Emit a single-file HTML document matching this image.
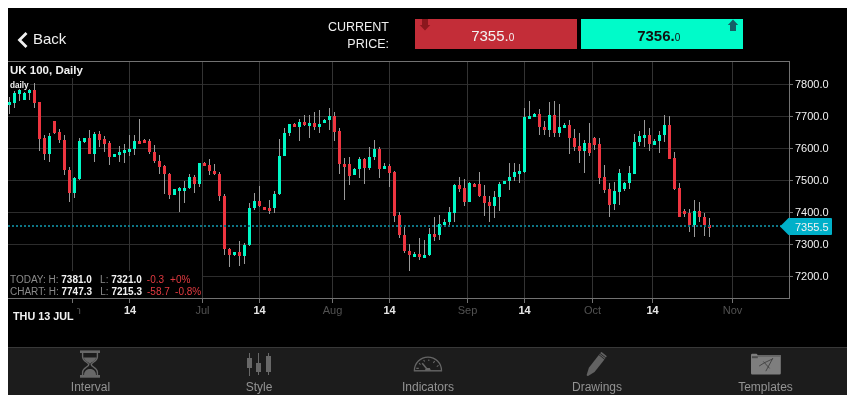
<!DOCTYPE html>
<html lang="en">
<head>
<meta charset="utf-8">
<title>UK 100 Chart</title>
<style>
html,body{margin:0;padding:0;background:#fff;}
body{width:855px;height:403px;position:relative;overflow:hidden;font-family:"Liberation Sans",sans-serif;}
#app{position:absolute;left:8px;top:8px;width:839px;height:387px;background:#000;}
.chart{position:absolute;left:0;top:0;}
.chart text{font-family:"Liberation Sans",sans-serif;}
.ax{font-size:11px;fill:#f2f2f2;}
.ttl{font-size:11.5px;font-weight:bold;fill:#f2f2f2;}
.sub{font-size:8.2px;font-weight:bold;fill:#f2f2f2;}
.st{font-size:10px;}
.st .g{fill:#8a8a8a;}
.st .w{fill:#f2f2f2;font-weight:bold;}
.st .r{fill:#e23a40;}
.xb{font-size:11px;font-weight:bold;fill:#e6e6e6;}
.xm{font-size:11px;fill:#525252;}
.dt{font-size:10.8px;font-weight:bold;fill:#f2f2f2;}
.back{position:absolute;left:33px;top:30px;font-size:15px;line-height:17px;color:#f0f0f0;}
.chev{position:absolute;left:16px;top:31px;}
.cp{position:absolute;left:300px;width:389px;top:17px;}
.cpt{position:absolute;left:250px;top:18.6px;width:139px;text-align:right;font-size:12.5px;line-height:17.3px;color:#f0f0f0;}
.sell{position:absolute;left:415px;top:19px;width:162px;height:30px;background:#c32d38;}
.buy{position:absolute;left:581px;top:19px;width:162px;height:30px;background:#00fbc9;}
.price{position:absolute;left:0;right:6.6px;top:7.7px;text-align:center;font-size:15px;line-height:17px;color:#f3f3f3;}
.price small{font-size:10px;}
.buy .price{color:#111;font-weight:bold;}
.buy .price small{font-weight:normal;}
.tb{position:absolute;left:8px;top:347px;width:839px;height:47px;background:#1c1c1c;border-top:1px solid #383838;box-sizing:content-box;}
.tbi{position:absolute;top:32px;width:120px;margin-left:-60px;text-align:center;font-size:12px;line-height:14px;color:#939393;}
.icons{position:absolute;left:0;top:0;}
</style>
</head>
<body>
<div id="app"></div>
<svg class="chart" width="855" height="403" viewBox="0 0 855 403" shape-rendering="crispEdges">
<rect x="8" y="84" width="782" height="1" fill="#2c2c2c"/>
<rect x="8" y="116" width="782" height="1" fill="#2c2c2c"/>
<rect x="8" y="148" width="782" height="1" fill="#2c2c2c"/>
<rect x="8" y="180" width="782" height="1" fill="#2c2c2c"/>
<rect x="8" y="212" width="782" height="1" fill="#2c2c2c"/>
<rect x="8" y="244" width="782" height="1" fill="#2c2c2c"/>
<rect x="8" y="276" width="782" height="1" fill="#2c2c2c"/>
<rect x="72" y="62" width="1" height="236" fill="#333333"/>
<rect x="129" y="62" width="1" height="236" fill="#333333"/>
<rect x="202" y="62" width="1" height="236" fill="#333333"/>
<rect x="259" y="62" width="1" height="236" fill="#333333"/>
<rect x="332" y="62" width="1" height="236" fill="#333333"/>
<rect x="389" y="62" width="1" height="236" fill="#333333"/>
<rect x="467" y="62" width="1" height="236" fill="#333333"/>
<rect x="524" y="62" width="1" height="236" fill="#333333"/>
<rect x="592" y="62" width="1" height="236" fill="#333333"/>
<rect x="652" y="62" width="1" height="236" fill="#333333"/>
<rect x="732" y="62" width="1" height="236" fill="#333333"/>
<rect x="8" y="61" width="782" height="1" fill="#727272"/>
<rect x="8" y="298" width="782" height="1" fill="#727272"/>
<rect x="789" y="61" width="1" height="238" fill="#727272"/>
<rect x="790" y="84" width="3" height="1" fill="#727272"/>
<rect x="790" y="116" width="3" height="1" fill="#727272"/>
<rect x="790" y="148" width="3" height="1" fill="#727272"/>
<rect x="790" y="180" width="3" height="1" fill="#727272"/>
<rect x="790" y="212" width="3" height="1" fill="#727272"/>
<rect x="790" y="244" width="3" height="1" fill="#727272"/>
<rect x="790" y="276" width="3" height="1" fill="#727272"/>
<rect x="72" y="299" width="1" height="4" fill="#727272"/>
<rect x="129" y="299" width="1" height="4" fill="#727272"/>
<rect x="202" y="299" width="1" height="4" fill="#727272"/>
<rect x="259" y="299" width="1" height="4" fill="#727272"/>
<rect x="332" y="299" width="1" height="4" fill="#727272"/>
<rect x="389" y="299" width="1" height="4" fill="#727272"/>
<rect x="467" y="299" width="1" height="4" fill="#727272"/>
<rect x="524" y="299" width="1" height="4" fill="#727272"/>
<rect x="592" y="299" width="1" height="4" fill="#727272"/>
<rect x="652" y="299" width="1" height="4" fill="#727272"/>
<rect x="732" y="299" width="1" height="4" fill="#727272"/>
<rect x="9" y="97" width="1" height="17" fill="#9a9a9a"/>
<rect x="8" y="102" width="3" height="3" fill="#00f8c6"/>
<rect x="14" y="91" width="1" height="17" fill="#9a9a9a"/>
<rect x="13" y="93" width="3" height="10" fill="#00f8c6"/>
<rect x="19" y="89" width="1" height="12" fill="#9a9a9a"/>
<rect x="18" y="90" width="3" height="4" fill="#00f8c6"/>
<rect x="24" y="92" width="1" height="8" fill="#9a9a9a"/>
<rect x="23" y="93" width="3" height="7" fill="#00f8c6"/>
<rect x="29" y="88" width="1" height="12" fill="#9a9a9a"/>
<rect x="28" y="90" width="3" height="3" fill="#00f8c6"/>
<rect x="34" y="83" width="1" height="25" fill="#9a9a9a"/>
<rect x="33" y="90" width="3" height="13" fill="#ee3540"/>
<rect x="39" y="102" width="1" height="49" fill="#9a9a9a"/>
<rect x="38" y="102" width="3" height="37" fill="#ee3540"/>
<rect x="44" y="135" width="1" height="25" fill="#9a9a9a"/>
<rect x="43" y="138" width="3" height="16" fill="#ee3540"/>
<rect x="49" y="133" width="1" height="29" fill="#9a9a9a"/>
<rect x="48" y="136" width="3" height="18" fill="#00f8c6"/>
<rect x="54" y="121" width="1" height="13" fill="#9a9a9a"/>
<rect x="53" y="121" width="3" height="12" fill="#ee3540"/>
<rect x="59" y="129" width="1" height="14" fill="#9a9a9a"/>
<rect x="58" y="132" width="3" height="8" fill="#ee3540"/>
<rect x="64" y="135" width="1" height="40" fill="#9a9a9a"/>
<rect x="63" y="140" width="3" height="30" fill="#ee3540"/>
<rect x="69" y="167" width="1" height="35" fill="#9a9a9a"/>
<rect x="68" y="170" width="3" height="23" fill="#ee3540"/>
<rect x="74" y="177" width="1" height="21" fill="#9a9a9a"/>
<rect x="73" y="178" width="3" height="15" fill="#00f8c6"/>
<rect x="79" y="138" width="1" height="42" fill="#9a9a9a"/>
<rect x="78" y="141" width="3" height="38" fill="#00f8c6"/>
<rect x="84" y="138" width="1" height="5" fill="#9a9a9a"/>
<rect x="83" y="138" width="3" height="4" fill="#00f8c6"/>
<rect x="89" y="130" width="1" height="24" fill="#9a9a9a"/>
<rect x="88" y="138" width="3" height="16" fill="#ee3540"/>
<rect x="94" y="132" width="1" height="30" fill="#9a9a9a"/>
<rect x="93" y="134" width="3" height="20" fill="#00f8c6"/>
<rect x="99" y="131" width="1" height="16" fill="#9a9a9a"/>
<rect x="98" y="134" width="3" height="6" fill="#ee3540"/>
<rect x="104" y="136" width="1" height="16" fill="#9a9a9a"/>
<rect x="103" y="139" width="3" height="5" fill="#ee3540"/>
<rect x="109" y="141" width="1" height="24" fill="#9a9a9a"/>
<rect x="108" y="143" width="3" height="14" fill="#ee3540"/>
<rect x="114" y="154" width="1" height="3" fill="#9a9a9a"/>
<rect x="113" y="154" width="3" height="3" fill="#00f8c6"/>
<rect x="119" y="146" width="1" height="16" fill="#9a9a9a"/>
<rect x="118" y="152" width="3" height="3" fill="#00f8c6"/>
<rect x="124" y="144" width="1" height="19" fill="#9a9a9a"/>
<rect x="123" y="150" width="3" height="3" fill="#00f8c6"/>
<rect x="129" y="135" width="1" height="21" fill="#9a9a9a"/>
<rect x="128" y="149" width="3" height="3" fill="#00f8c6"/>
<rect x="134" y="135" width="1" height="20" fill="#9a9a9a"/>
<rect x="133" y="141" width="3" height="8" fill="#00f8c6"/>
<rect x="139" y="119" width="1" height="25" fill="#9a9a9a"/>
<rect x="138" y="141" width="3" height="3" fill="#ee3540"/>
<rect x="144" y="139" width="1" height="4" fill="#9a9a9a"/>
<rect x="143" y="140" width="3" height="3" fill="#ee3540"/>
<rect x="149" y="139" width="1" height="15" fill="#9a9a9a"/>
<rect x="148" y="141" width="3" height="11" fill="#ee3540"/>
<rect x="154" y="145" width="1" height="18" fill="#9a9a9a"/>
<rect x="153" y="152" width="3" height="9" fill="#ee3540"/>
<rect x="159" y="155" width="1" height="19" fill="#9a9a9a"/>
<rect x="158" y="161" width="3" height="6" fill="#ee3540"/>
<rect x="164" y="165" width="1" height="29" fill="#9a9a9a"/>
<rect x="163" y="166" width="3" height="8" fill="#ee3540"/>
<rect x="169" y="173" width="1" height="26" fill="#9a9a9a"/>
<rect x="168" y="174" width="3" height="21" fill="#ee3540"/>
<rect x="174" y="189" width="1" height="6" fill="#9a9a9a"/>
<rect x="173" y="189" width="3" height="6" fill="#00f8c6"/>
<rect x="179" y="187" width="1" height="25" fill="#9a9a9a"/>
<rect x="178" y="188" width="3" height="3" fill="#00f8c6"/>
<rect x="184" y="181" width="1" height="22" fill="#9a9a9a"/>
<rect x="183" y="188" width="3" height="3" fill="#00f8c6"/>
<rect x="189" y="174" width="1" height="15" fill="#9a9a9a"/>
<rect x="188" y="177" width="3" height="11" fill="#00f8c6"/>
<rect x="194" y="175" width="1" height="18" fill="#9a9a9a"/>
<rect x="193" y="177" width="3" height="7" fill="#ee3540"/>
<rect x="199" y="163" width="1" height="24" fill="#9a9a9a"/>
<rect x="198" y="163" width="3" height="21" fill="#00f8c6"/>
<rect x="204" y="162" width="1" height="4" fill="#9a9a9a"/>
<rect x="203" y="163" width="3" height="3" fill="#ee3540"/>
<rect x="209" y="159" width="1" height="16" fill="#9a9a9a"/>
<rect x="208" y="165" width="3" height="6" fill="#ee3540"/>
<rect x="214" y="164" width="1" height="11" fill="#9a9a9a"/>
<rect x="213" y="171" width="3" height="3" fill="#ee3540"/>
<rect x="219" y="172" width="1" height="29" fill="#9a9a9a"/>
<rect x="218" y="174" width="3" height="22" fill="#ee3540"/>
<rect x="224" y="194" width="1" height="61" fill="#9a9a9a"/>
<rect x="223" y="196" width="3" height="53" fill="#ee3540"/>
<rect x="229" y="248" width="1" height="19" fill="#9a9a9a"/>
<rect x="228" y="249" width="3" height="6" fill="#ee3540"/>
<rect x="234" y="252" width="1" height="4" fill="#9a9a9a"/>
<rect x="233" y="252" width="3" height="3" fill="#00f8c6"/>
<rect x="239" y="241" width="1" height="25" fill="#9a9a9a"/>
<rect x="238" y="252" width="3" height="4" fill="#ee3540"/>
<rect x="244" y="243" width="1" height="21" fill="#9a9a9a"/>
<rect x="243" y="245" width="3" height="11" fill="#00f8c6"/>
<rect x="249" y="203" width="1" height="43" fill="#9a9a9a"/>
<rect x="248" y="208" width="3" height="37" fill="#00f8c6"/>
<rect x="254" y="193" width="1" height="17" fill="#9a9a9a"/>
<rect x="253" y="201" width="3" height="7" fill="#00f8c6"/>
<rect x="259" y="186" width="1" height="21" fill="#9a9a9a"/>
<rect x="258" y="201" width="3" height="5" fill="#ee3540"/>
<rect x="264" y="207" width="1" height="3" fill="#9a9a9a"/>
<rect x="263" y="207" width="3" height="3" fill="#ee3540"/>
<rect x="269" y="200" width="1" height="14" fill="#9a9a9a"/>
<rect x="268" y="208" width="3" height="3" fill="#ee3540"/>
<rect x="274" y="191" width="1" height="22" fill="#9a9a9a"/>
<rect x="273" y="194" width="3" height="14" fill="#00f8c6"/>
<rect x="279" y="139" width="1" height="56" fill="#9a9a9a"/>
<rect x="278" y="156" width="3" height="38" fill="#00f8c6"/>
<rect x="284" y="128" width="1" height="28" fill="#9a9a9a"/>
<rect x="283" y="133" width="3" height="23" fill="#00f8c6"/>
<rect x="289" y="124" width="1" height="12" fill="#9a9a9a"/>
<rect x="288" y="124" width="3" height="9" fill="#00f8c6"/>
<rect x="294" y="123" width="1" height="4" fill="#9a9a9a"/>
<rect x="293" y="124" width="3" height="3" fill="#ee3540"/>
<rect x="299" y="119" width="1" height="22" fill="#9a9a9a"/>
<rect x="298" y="122" width="3" height="5" fill="#00f8c6"/>
<rect x="304" y="115" width="1" height="11" fill="#9a9a9a"/>
<rect x="303" y="122" width="3" height="3" fill="#ee3540"/>
<rect x="309" y="115" width="1" height="23" fill="#9a9a9a"/>
<rect x="308" y="123" width="3" height="3" fill="#00f8c6"/>
<rect x="314" y="112" width="1" height="18" fill="#9a9a9a"/>
<rect x="313" y="123" width="3" height="4" fill="#ee3540"/>
<rect x="319" y="110" width="1" height="23" fill="#9a9a9a"/>
<rect x="318" y="124" width="3" height="3" fill="#00f8c6"/>
<rect x="324" y="119" width="1" height="4" fill="#9a9a9a"/>
<rect x="323" y="120" width="3" height="3" fill="#00f8c6"/>
<rect x="329" y="108" width="1" height="22" fill="#9a9a9a"/>
<rect x="328" y="116" width="3" height="4" fill="#00f8c6"/>
<rect x="334" y="112" width="1" height="29" fill="#9a9a9a"/>
<rect x="333" y="116" width="3" height="16" fill="#ee3540"/>
<rect x="339" y="128" width="1" height="46" fill="#9a9a9a"/>
<rect x="338" y="131" width="3" height="33" fill="#ee3540"/>
<rect x="344" y="158" width="1" height="42" fill="#9a9a9a"/>
<rect x="343" y="164" width="3" height="3" fill="#ee3540"/>
<rect x="349" y="157" width="1" height="28" fill="#9a9a9a"/>
<rect x="348" y="164" width="3" height="12" fill="#ee3540"/>
<rect x="354" y="168" width="1" height="7" fill="#9a9a9a"/>
<rect x="353" y="169" width="3" height="6" fill="#00f8c6"/>
<rect x="359" y="157" width="1" height="21" fill="#9a9a9a"/>
<rect x="358" y="159" width="3" height="10" fill="#00f8c6"/>
<rect x="364" y="158" width="1" height="26" fill="#9a9a9a"/>
<rect x="363" y="159" width="3" height="9" fill="#ee3540"/>
<rect x="369" y="147" width="1" height="23" fill="#9a9a9a"/>
<rect x="368" y="157" width="3" height="11" fill="#00f8c6"/>
<rect x="374" y="140" width="1" height="20" fill="#9a9a9a"/>
<rect x="373" y="149" width="3" height="8" fill="#00f8c6"/>
<rect x="379" y="147" width="1" height="31" fill="#9a9a9a"/>
<rect x="378" y="149" width="3" height="20" fill="#ee3540"/>
<rect x="384" y="163" width="1" height="6" fill="#9a9a9a"/>
<rect x="383" y="166" width="3" height="3" fill="#00f8c6"/>
<rect x="389" y="164" width="1" height="23" fill="#9a9a9a"/>
<rect x="388" y="166" width="3" height="7" fill="#ee3540"/>
<rect x="394" y="171" width="1" height="51" fill="#9a9a9a"/>
<rect x="393" y="172" width="3" height="44" fill="#ee3540"/>
<rect x="399" y="212" width="1" height="26" fill="#9a9a9a"/>
<rect x="398" y="215" width="3" height="20" fill="#ee3540"/>
<rect x="404" y="226" width="1" height="27" fill="#9a9a9a"/>
<rect x="403" y="235" width="3" height="16" fill="#ee3540"/>
<rect x="409" y="244" width="1" height="27" fill="#9a9a9a"/>
<rect x="408" y="251" width="3" height="4" fill="#ee3540"/>
<rect x="414" y="252" width="1" height="5" fill="#9a9a9a"/>
<rect x="413" y="254" width="3" height="3" fill="#00f8c6"/>
<rect x="419" y="238" width="1" height="22" fill="#9a9a9a"/>
<rect x="418" y="254" width="3" height="3" fill="#ee3540"/>
<rect x="424" y="240" width="1" height="18" fill="#9a9a9a"/>
<rect x="423" y="255" width="3" height="3" fill="#00f8c6"/>
<rect x="429" y="228" width="1" height="28" fill="#9a9a9a"/>
<rect x="428" y="234" width="3" height="21" fill="#00f8c6"/>
<rect x="434" y="217" width="1" height="24" fill="#9a9a9a"/>
<rect x="433" y="234" width="3" height="3" fill="#ee3540"/>
<rect x="439" y="215" width="1" height="25" fill="#9a9a9a"/>
<rect x="438" y="224" width="3" height="11" fill="#00f8c6"/>
<rect x="444" y="219" width="1" height="6" fill="#9a9a9a"/>
<rect x="443" y="222" width="3" height="3" fill="#00f8c6"/>
<rect x="449" y="207" width="1" height="18" fill="#9a9a9a"/>
<rect x="448" y="212" width="3" height="10" fill="#00f8c6"/>
<rect x="454" y="184" width="1" height="38" fill="#9a9a9a"/>
<rect x="453" y="185" width="3" height="28" fill="#00f8c6"/>
<rect x="459" y="177" width="1" height="15" fill="#9a9a9a"/>
<rect x="458" y="185" width="3" height="4" fill="#ee3540"/>
<rect x="464" y="179" width="1" height="27" fill="#9a9a9a"/>
<rect x="463" y="188" width="3" height="14" fill="#ee3540"/>
<rect x="469" y="182" width="1" height="20" fill="#9a9a9a"/>
<rect x="468" y="183" width="3" height="19" fill="#00f8c6"/>
<rect x="474" y="183" width="1" height="4" fill="#9a9a9a"/>
<rect x="473" y="184" width="3" height="3" fill="#ee3540"/>
<rect x="479" y="172" width="1" height="25" fill="#9a9a9a"/>
<rect x="478" y="184" width="3" height="12" fill="#ee3540"/>
<rect x="484" y="185" width="1" height="31" fill="#9a9a9a"/>
<rect x="483" y="196" width="3" height="7" fill="#ee3540"/>
<rect x="489" y="196" width="1" height="26" fill="#9a9a9a"/>
<rect x="488" y="202" width="3" height="4" fill="#ee3540"/>
<rect x="494" y="191" width="1" height="27" fill="#9a9a9a"/>
<rect x="493" y="197" width="3" height="9" fill="#00f8c6"/>
<rect x="499" y="182" width="1" height="29" fill="#9a9a9a"/>
<rect x="498" y="184" width="3" height="13" fill="#00f8c6"/>
<rect x="504" y="181" width="1" height="3" fill="#9a9a9a"/>
<rect x="503" y="181" width="3" height="3" fill="#00f8c6"/>
<rect x="509" y="163" width="1" height="27" fill="#9a9a9a"/>
<rect x="508" y="177" width="3" height="4" fill="#00f8c6"/>
<rect x="514" y="163" width="1" height="18" fill="#9a9a9a"/>
<rect x="513" y="172" width="3" height="5" fill="#00f8c6"/>
<rect x="519" y="164" width="1" height="19" fill="#9a9a9a"/>
<rect x="518" y="171" width="3" height="3" fill="#00f8c6"/>
<rect x="524" y="108" width="1" height="65" fill="#9a9a9a"/>
<rect x="523" y="117" width="3" height="55" fill="#00f8c6"/>
<rect x="529" y="101" width="1" height="18" fill="#9a9a9a"/>
<rect x="528" y="116" width="3" height="3" fill="#00f8c6"/>
<rect x="534" y="113" width="1" height="4" fill="#9a9a9a"/>
<rect x="533" y="114" width="3" height="3" fill="#00f8c6"/>
<rect x="539" y="109" width="1" height="26" fill="#9a9a9a"/>
<rect x="538" y="114" width="3" height="13" fill="#ee3540"/>
<rect x="544" y="121" width="1" height="14" fill="#9a9a9a"/>
<rect x="543" y="127" width="3" height="3" fill="#ee3540"/>
<rect x="549" y="102" width="1" height="35" fill="#9a9a9a"/>
<rect x="548" y="115" width="3" height="15" fill="#00f8c6"/>
<rect x="554" y="101" width="1" height="36" fill="#9a9a9a"/>
<rect x="553" y="115" width="3" height="18" fill="#ee3540"/>
<rect x="559" y="104" width="1" height="33" fill="#9a9a9a"/>
<rect x="558" y="127" width="3" height="6" fill="#00f8c6"/>
<rect x="564" y="123" width="1" height="5" fill="#9a9a9a"/>
<rect x="563" y="125" width="3" height="3" fill="#00f8c6"/>
<rect x="569" y="120" width="1" height="34" fill="#9a9a9a"/>
<rect x="568" y="125" width="3" height="13" fill="#ee3540"/>
<rect x="574" y="129" width="1" height="22" fill="#9a9a9a"/>
<rect x="573" y="138" width="3" height="9" fill="#ee3540"/>
<rect x="579" y="133" width="1" height="30" fill="#9a9a9a"/>
<rect x="578" y="146" width="3" height="5" fill="#ee3540"/>
<rect x="584" y="140" width="1" height="33" fill="#9a9a9a"/>
<rect x="583" y="143" width="3" height="8" fill="#00f8c6"/>
<rect x="589" y="123" width="1" height="33" fill="#9a9a9a"/>
<rect x="588" y="143" width="3" height="10" fill="#ee3540"/>
<rect x="594" y="137" width="1" height="13" fill="#9a9a9a"/>
<rect x="593" y="138" width="3" height="7" fill="#ee3540"/>
<rect x="599" y="138" width="1" height="46" fill="#9a9a9a"/>
<rect x="598" y="144" width="3" height="34" fill="#ee3540"/>
<rect x="604" y="165" width="1" height="28" fill="#9a9a9a"/>
<rect x="603" y="177" width="3" height="13" fill="#ee3540"/>
<rect x="609" y="183" width="1" height="34" fill="#9a9a9a"/>
<rect x="608" y="189" width="3" height="16" fill="#ee3540"/>
<rect x="614" y="182" width="1" height="28" fill="#9a9a9a"/>
<rect x="613" y="191" width="3" height="13" fill="#00f8c6"/>
<rect x="619" y="169" width="1" height="36" fill="#9a9a9a"/>
<rect x="618" y="173" width="3" height="19" fill="#00f8c6"/>
<rect x="624" y="182" width="1" height="9" fill="#9a9a9a"/>
<rect x="623" y="183" width="3" height="6" fill="#00f8c6"/>
<rect x="629" y="166" width="1" height="23" fill="#9a9a9a"/>
<rect x="628" y="173" width="3" height="10" fill="#00f8c6"/>
<rect x="634" y="134" width="1" height="40" fill="#9a9a9a"/>
<rect x="633" y="142" width="3" height="32" fill="#00f8c6"/>
<rect x="639" y="131" width="1" height="15" fill="#9a9a9a"/>
<rect x="638" y="136" width="3" height="6" fill="#00f8c6"/>
<rect x="644" y="120" width="1" height="27" fill="#9a9a9a"/>
<rect x="643" y="135" width="3" height="3" fill="#00f8c6"/>
<rect x="649" y="128" width="1" height="23" fill="#9a9a9a"/>
<rect x="648" y="135" width="3" height="9" fill="#ee3540"/>
<rect x="654" y="139" width="1" height="6" fill="#9a9a9a"/>
<rect x="653" y="141" width="3" height="4" fill="#00f8c6"/>
<rect x="659" y="131" width="1" height="22" fill="#9a9a9a"/>
<rect x="658" y="135" width="3" height="6" fill="#00f8c6"/>
<rect x="664" y="115" width="1" height="27" fill="#9a9a9a"/>
<rect x="663" y="125" width="3" height="10" fill="#00f8c6"/>
<rect x="669" y="116" width="1" height="43" fill="#9a9a9a"/>
<rect x="668" y="125" width="3" height="34" fill="#ee3540"/>
<rect x="674" y="152" width="1" height="38" fill="#9a9a9a"/>
<rect x="673" y="158" width="3" height="31" fill="#ee3540"/>
<rect x="679" y="183" width="1" height="34" fill="#9a9a9a"/>
<rect x="678" y="188" width="3" height="29" fill="#ee3540"/>
<rect x="684" y="209" width="1" height="8" fill="#9a9a9a"/>
<rect x="683" y="211" width="3" height="3" fill="#ee3540"/>
<rect x="689" y="209" width="1" height="23" fill="#9a9a9a"/>
<rect x="688" y="213" width="3" height="12" fill="#ee3540"/>
<rect x="694" y="200" width="1" height="37" fill="#9a9a9a"/>
<rect x="693" y="211" width="3" height="14" fill="#00f8c6"/>
<rect x="699" y="202" width="1" height="20" fill="#9a9a9a"/>
<rect x="698" y="211" width="3" height="6" fill="#ee3540"/>
<rect x="704" y="213" width="1" height="23" fill="#9a9a9a"/>
<rect x="703" y="217" width="3" height="8" fill="#ee3540"/>
<rect x="709" y="218" width="1" height="19" fill="#9a9a9a"/>
<rect x="708" y="225" width="3" height="3" fill="#ee3540"/>
<rect x="8" y="225" width="2" height="2" fill="#0d7686"/><rect x="12" y="225" width="2" height="2" fill="#0d7686"/><rect x="16" y="225" width="2" height="2" fill="#0d7686"/><rect x="20" y="225" width="2" height="2" fill="#0d7686"/><rect x="24" y="225" width="2" height="2" fill="#0d7686"/><rect x="28" y="225" width="2" height="2" fill="#0d7686"/><rect x="32" y="225" width="2" height="2" fill="#0d7686"/><rect x="36" y="225" width="2" height="2" fill="#0d7686"/><rect x="40" y="225" width="2" height="2" fill="#0d7686"/><rect x="44" y="225" width="2" height="2" fill="#0d7686"/><rect x="48" y="225" width="2" height="2" fill="#0d7686"/><rect x="52" y="225" width="2" height="2" fill="#0d7686"/><rect x="56" y="225" width="2" height="2" fill="#0d7686"/><rect x="60" y="225" width="2" height="2" fill="#0d7686"/><rect x="64" y="225" width="2" height="2" fill="#0d7686"/><rect x="68" y="225" width="2" height="2" fill="#0d7686"/><rect x="72" y="225" width="2" height="2" fill="#0d7686"/><rect x="76" y="225" width="2" height="2" fill="#0d7686"/><rect x="80" y="225" width="2" height="2" fill="#0d7686"/><rect x="84" y="225" width="2" height="2" fill="#0d7686"/><rect x="88" y="225" width="2" height="2" fill="#0d7686"/><rect x="92" y="225" width="2" height="2" fill="#0d7686"/><rect x="96" y="225" width="2" height="2" fill="#0d7686"/><rect x="100" y="225" width="2" height="2" fill="#0d7686"/><rect x="104" y="225" width="2" height="2" fill="#0d7686"/><rect x="108" y="225" width="2" height="2" fill="#0d7686"/><rect x="112" y="225" width="2" height="2" fill="#0d7686"/><rect x="116" y="225" width="2" height="2" fill="#0d7686"/><rect x="120" y="225" width="2" height="2" fill="#0d7686"/><rect x="124" y="225" width="2" height="2" fill="#0d7686"/><rect x="128" y="225" width="2" height="2" fill="#0d7686"/><rect x="132" y="225" width="2" height="2" fill="#0d7686"/><rect x="136" y="225" width="2" height="2" fill="#0d7686"/><rect x="140" y="225" width="2" height="2" fill="#0d7686"/><rect x="144" y="225" width="2" height="2" fill="#0d7686"/><rect x="148" y="225" width="2" height="2" fill="#0d7686"/><rect x="152" y="225" width="2" height="2" fill="#0d7686"/><rect x="156" y="225" width="2" height="2" fill="#0d7686"/><rect x="160" y="225" width="2" height="2" fill="#0d7686"/><rect x="164" y="225" width="2" height="2" fill="#0d7686"/><rect x="168" y="225" width="2" height="2" fill="#0d7686"/><rect x="172" y="225" width="2" height="2" fill="#0d7686"/><rect x="176" y="225" width="2" height="2" fill="#0d7686"/><rect x="180" y="225" width="2" height="2" fill="#0d7686"/><rect x="184" y="225" width="2" height="2" fill="#0d7686"/><rect x="188" y="225" width="2" height="2" fill="#0d7686"/><rect x="192" y="225" width="2" height="2" fill="#0d7686"/><rect x="196" y="225" width="2" height="2" fill="#0d7686"/><rect x="200" y="225" width="2" height="2" fill="#0d7686"/><rect x="204" y="225" width="2" height="2" fill="#0d7686"/><rect x="208" y="225" width="2" height="2" fill="#0d7686"/><rect x="212" y="225" width="2" height="2" fill="#0d7686"/><rect x="216" y="225" width="2" height="2" fill="#0d7686"/><rect x="220" y="225" width="2" height="2" fill="#0d7686"/><rect x="224" y="225" width="2" height="2" fill="#0d7686"/><rect x="228" y="225" width="2" height="2" fill="#0d7686"/><rect x="232" y="225" width="2" height="2" fill="#0d7686"/><rect x="236" y="225" width="2" height="2" fill="#0d7686"/><rect x="240" y="225" width="2" height="2" fill="#0d7686"/><rect x="244" y="225" width="2" height="2" fill="#0d7686"/><rect x="248" y="225" width="2" height="2" fill="#0d7686"/><rect x="252" y="225" width="2" height="2" fill="#0d7686"/><rect x="256" y="225" width="2" height="2" fill="#0d7686"/><rect x="260" y="225" width="2" height="2" fill="#0d7686"/><rect x="264" y="225" width="2" height="2" fill="#0d7686"/><rect x="268" y="225" width="2" height="2" fill="#0d7686"/><rect x="272" y="225" width="2" height="2" fill="#0d7686"/><rect x="276" y="225" width="2" height="2" fill="#0d7686"/><rect x="280" y="225" width="2" height="2" fill="#0d7686"/><rect x="284" y="225" width="2" height="2" fill="#0d7686"/><rect x="288" y="225" width="2" height="2" fill="#0d7686"/><rect x="292" y="225" width="2" height="2" fill="#0d7686"/><rect x="296" y="225" width="2" height="2" fill="#0d7686"/><rect x="300" y="225" width="2" height="2" fill="#0d7686"/><rect x="304" y="225" width="2" height="2" fill="#0d7686"/><rect x="308" y="225" width="2" height="2" fill="#0d7686"/><rect x="312" y="225" width="2" height="2" fill="#0d7686"/><rect x="316" y="225" width="2" height="2" fill="#0d7686"/><rect x="320" y="225" width="2" height="2" fill="#0d7686"/><rect x="324" y="225" width="2" height="2" fill="#0d7686"/><rect x="328" y="225" width="2" height="2" fill="#0d7686"/><rect x="332" y="225" width="2" height="2" fill="#0d7686"/><rect x="336" y="225" width="2" height="2" fill="#0d7686"/><rect x="340" y="225" width="2" height="2" fill="#0d7686"/><rect x="344" y="225" width="2" height="2" fill="#0d7686"/><rect x="348" y="225" width="2" height="2" fill="#0d7686"/><rect x="352" y="225" width="2" height="2" fill="#0d7686"/><rect x="356" y="225" width="2" height="2" fill="#0d7686"/><rect x="360" y="225" width="2" height="2" fill="#0d7686"/><rect x="364" y="225" width="2" height="2" fill="#0d7686"/><rect x="368" y="225" width="2" height="2" fill="#0d7686"/><rect x="372" y="225" width="2" height="2" fill="#0d7686"/><rect x="376" y="225" width="2" height="2" fill="#0d7686"/><rect x="380" y="225" width="2" height="2" fill="#0d7686"/><rect x="384" y="225" width="2" height="2" fill="#0d7686"/><rect x="388" y="225" width="2" height="2" fill="#0d7686"/><rect x="392" y="225" width="2" height="2" fill="#0d7686"/><rect x="396" y="225" width="2" height="2" fill="#0d7686"/><rect x="400" y="225" width="2" height="2" fill="#0d7686"/><rect x="404" y="225" width="2" height="2" fill="#0d7686"/><rect x="408" y="225" width="2" height="2" fill="#0d7686"/><rect x="412" y="225" width="2" height="2" fill="#0d7686"/><rect x="416" y="225" width="2" height="2" fill="#0d7686"/><rect x="420" y="225" width="2" height="2" fill="#0d7686"/><rect x="424" y="225" width="2" height="2" fill="#0d7686"/><rect x="428" y="225" width="2" height="2" fill="#0d7686"/><rect x="432" y="225" width="2" height="2" fill="#0d7686"/><rect x="436" y="225" width="2" height="2" fill="#0d7686"/><rect x="440" y="225" width="2" height="2" fill="#0d7686"/><rect x="444" y="225" width="2" height="2" fill="#0d7686"/><rect x="448" y="225" width="2" height="2" fill="#0d7686"/><rect x="452" y="225" width="2" height="2" fill="#0d7686"/><rect x="456" y="225" width="2" height="2" fill="#0d7686"/><rect x="460" y="225" width="2" height="2" fill="#0d7686"/><rect x="464" y="225" width="2" height="2" fill="#0d7686"/><rect x="468" y="225" width="2" height="2" fill="#0d7686"/><rect x="472" y="225" width="2" height="2" fill="#0d7686"/><rect x="476" y="225" width="2" height="2" fill="#0d7686"/><rect x="480" y="225" width="2" height="2" fill="#0d7686"/><rect x="484" y="225" width="2" height="2" fill="#0d7686"/><rect x="488" y="225" width="2" height="2" fill="#0d7686"/><rect x="492" y="225" width="2" height="2" fill="#0d7686"/><rect x="496" y="225" width="2" height="2" fill="#0d7686"/><rect x="500" y="225" width="2" height="2" fill="#0d7686"/><rect x="504" y="225" width="2" height="2" fill="#0d7686"/><rect x="508" y="225" width="2" height="2" fill="#0d7686"/><rect x="512" y="225" width="2" height="2" fill="#0d7686"/><rect x="516" y="225" width="2" height="2" fill="#0d7686"/><rect x="520" y="225" width="2" height="2" fill="#0d7686"/><rect x="524" y="225" width="2" height="2" fill="#0d7686"/><rect x="528" y="225" width="2" height="2" fill="#0d7686"/><rect x="532" y="225" width="2" height="2" fill="#0d7686"/><rect x="536" y="225" width="2" height="2" fill="#0d7686"/><rect x="540" y="225" width="2" height="2" fill="#0d7686"/><rect x="544" y="225" width="2" height="2" fill="#0d7686"/><rect x="548" y="225" width="2" height="2" fill="#0d7686"/><rect x="552" y="225" width="2" height="2" fill="#0d7686"/><rect x="556" y="225" width="2" height="2" fill="#0d7686"/><rect x="560" y="225" width="2" height="2" fill="#0d7686"/><rect x="564" y="225" width="2" height="2" fill="#0d7686"/><rect x="568" y="225" width="2" height="2" fill="#0d7686"/><rect x="572" y="225" width="2" height="2" fill="#0d7686"/><rect x="576" y="225" width="2" height="2" fill="#0d7686"/><rect x="580" y="225" width="2" height="2" fill="#0d7686"/><rect x="584" y="225" width="2" height="2" fill="#0d7686"/><rect x="588" y="225" width="2" height="2" fill="#0d7686"/><rect x="592" y="225" width="2" height="2" fill="#0d7686"/><rect x="596" y="225" width="2" height="2" fill="#0d7686"/><rect x="600" y="225" width="2" height="2" fill="#0d7686"/><rect x="604" y="225" width="2" height="2" fill="#0d7686"/><rect x="608" y="225" width="2" height="2" fill="#0d7686"/><rect x="612" y="225" width="2" height="2" fill="#0d7686"/><rect x="616" y="225" width="2" height="2" fill="#0d7686"/><rect x="620" y="225" width="2" height="2" fill="#0d7686"/><rect x="624" y="225" width="2" height="2" fill="#0d7686"/><rect x="628" y="225" width="2" height="2" fill="#0d7686"/><rect x="632" y="225" width="2" height="2" fill="#0d7686"/><rect x="636" y="225" width="2" height="2" fill="#0d7686"/><rect x="640" y="225" width="2" height="2" fill="#0d7686"/><rect x="644" y="225" width="2" height="2" fill="#0d7686"/><rect x="648" y="225" width="2" height="2" fill="#0d7686"/><rect x="652" y="225" width="2" height="2" fill="#0d7686"/><rect x="656" y="225" width="2" height="2" fill="#0d7686"/><rect x="660" y="225" width="2" height="2" fill="#0d7686"/><rect x="664" y="225" width="2" height="2" fill="#0d7686"/><rect x="668" y="225" width="2" height="2" fill="#0d7686"/><rect x="672" y="225" width="2" height="2" fill="#0d7686"/><rect x="676" y="225" width="2" height="2" fill="#0d7686"/><rect x="680" y="225" width="2" height="2" fill="#0d7686"/><rect x="684" y="225" width="2" height="2" fill="#0d7686"/><rect x="688" y="225" width="2" height="2" fill="#0d7686"/><rect x="692" y="225" width="2" height="2" fill="#0d7686"/><rect x="696" y="225" width="2" height="2" fill="#0d7686"/><rect x="700" y="225" width="2" height="2" fill="#0d7686"/><rect x="704" y="225" width="2" height="2" fill="#0d7686"/><rect x="708" y="225" width="2" height="2" fill="#0d7686"/><rect x="712" y="225" width="2" height="2" fill="#0d7686"/><rect x="716" y="225" width="2" height="2" fill="#0d7686"/><rect x="720" y="225" width="2" height="2" fill="#0d7686"/><rect x="724" y="225" width="2" height="2" fill="#0d7686"/><rect x="728" y="225" width="2" height="2" fill="#0d7686"/><rect x="732" y="225" width="2" height="2" fill="#0d7686"/><rect x="736" y="225" width="2" height="2" fill="#0d7686"/><rect x="740" y="225" width="2" height="2" fill="#0d7686"/><rect x="744" y="225" width="2" height="2" fill="#0d7686"/><rect x="748" y="225" width="2" height="2" fill="#0d7686"/><rect x="752" y="225" width="2" height="2" fill="#0d7686"/><rect x="756" y="225" width="2" height="2" fill="#0d7686"/><rect x="760" y="225" width="2" height="2" fill="#0d7686"/><rect x="764" y="225" width="2" height="2" fill="#0d7686"/><rect x="768" y="225" width="2" height="2" fill="#0d7686"/><rect x="772" y="225" width="2" height="2" fill="#0d7686"/><rect x="776" y="225" width="2" height="2" fill="#0d7686"/><rect x="780" y="225" width="2" height="2" fill="#0d7686"/>
<path d="M780 226.5 L788.5 218 H831 Q832 218 832 219 V234 Q832 235 831 235 H788.5 Z" fill="#00b0c9" shape-rendering="geometricPrecision"/>
<text x="795" y="88" class="ax">7800.0</text>
<text x="795" y="120" class="ax">7700.0</text>
<text x="795" y="152" class="ax">7600.0</text>
<text x="795" y="184" class="ax">7500.0</text>
<text x="795" y="216" class="ax">7400.0</text>
<text x="795" y="248" class="ax">7300.0</text>
<text x="795" y="280" class="ax">7200.0</text>
<text x="795" y="230.5" class="ax" fill="#fff">7355.5</text>
<rect x="8" y="62" width="78" height="16" fill="#000"/>
<rect x="8" y="78" width="22" height="11" fill="#000"/>
<rect x="8" y="271" width="194" height="27" fill="#000"/>
<text x="10" y="74" class="ttl">UK 100, Daily</text>
<text x="10" y="88" class="sub">daily</text>
<text x="10" y="283" class="st"><tspan class="g">TODAY: H: </tspan><tspan class="w">7381.0</tspan><tspan class="g" dx="8.2">L: </tspan><tspan class="w">7321.0</tspan><tspan class="r" dx="5">-0.3</tspan><tspan class="r" dx="6">+0%</tspan></text>
<text x="10" y="295" class="st"><tspan class="g">CHART: H: </tspan><tspan class="w">7747.3</tspan><tspan class="g" dx="8.2">L: </tspan><tspan class="w">7215.3</tspan><tspan class="r" dx="5">-58.7</tspan><tspan class="r" dx="5.3">-0.8%</tspan></text>
<text x="72" y="314" class="xm" text-anchor="middle">Jun</text>
<text x="130" y="314" class="xb" text-anchor="middle">14</text>
<text x="202.5" y="314" class="xm" text-anchor="middle">Jul</text>
<text x="259.5" y="314" class="xb" text-anchor="middle">14</text>
<text x="332.5" y="314" class="xm" text-anchor="middle">Aug</text>
<text x="389.5" y="314" class="xb" text-anchor="middle">14</text>
<text x="467.5" y="314" class="xm" text-anchor="middle">Sep</text>
<text x="524.5" y="314" class="xb" text-anchor="middle">14</text>
<text x="592.5" y="314" class="xm" text-anchor="middle">Oct</text>
<text x="652.6" y="314" class="xb" text-anchor="middle">14</text>
<text x="732.5" y="314" class="xm" text-anchor="middle">Nov</text>
<rect x="9" y="304" width="68" height="20" fill="#000"/>
<text x="13" y="319.6" class="dt">THU 13 JUL</text>
</svg>
<svg class="chev" width="14" height="18" viewBox="0 0 14 18"><path d="M10.5 2 L3.5 9 L10.5 16" fill="none" stroke="#f0f0f0" stroke-width="2.8"/></svg>
<div class="back">Back</div>
<div class="cpt">CURRENT<br>PRICE:</div>
<div class="sell"><svg width="20" height="14" style="position:absolute;left:0;top:0"><path d="M7 0 H13 V6 H15.2 L10 11.5 L4.8 6 H7 Z" fill="#8b171d"/></svg><div class="price">7355.<small>0</small></div></div>
<div class="buy"><svg width="20" height="14" style="position:absolute;right:0;top:0"><path d="M10 0.5 L15.2 6 H13 V12 H7 V6 H4.8 Z" fill="#155f66"/></svg><div class="price">7356.<small>0</small></div></div>
<div class="tb">
<div class="tbi" style="left:82.5px">Interval</div>
<div class="tbi" style="left:251px">Style</div>
<div class="tbi" style="left:420px">Indicators</div>
<div class="tbi" style="left:589px">Drawings</div>
<div class="tbi" style="left:757.5px">Templates</div>
</div>
<svg class="icons" width="855" height="403" viewBox="0 0 855 403">
<!-- hourglass -->
<g fill="#686868">
<rect x="80" y="350.4" width="20" height="2.6"/>
<rect x="80" y="375" width="20" height="2.7"/>
</g>
<path d="M82.6 353 V357 C82.6 361 88.3 362.3 88.8 364.6 C88.3 367 82.6 368.2 82.6 372 V375 M97.4 353 V357 C97.4 361 91.7 362.3 91.2 364.6 C91.7 367 97.4 368.2 97.4 372 V375" fill="none" stroke="#686868" stroke-width="1.4"/>
<path d="M83.6 357.4 H96.4 C95.5 360.6 91.5 361.9 90 363.9 C88.5 361.9 84.5 360.6 83.6 357.4 Z" fill="#686868"/>
<path d="M84 375.2 C84 370.6 87.4 369 90 369 C92.6 369 96 370.6 96 375.2 Z" fill="#686868"/>
<!-- style candles -->
<g fill="#686868" shape-rendering="crispEdges">
<rect x="249" y="353" width="1" height="23"/><rect x="247" y="358" width="5" height="10"/>
<rect x="258" y="353" width="1" height="22"/><rect x="256" y="363" width="5" height="9"/>
<rect x="268" y="353" width="1" height="22"/><rect x="266" y="356" width="5" height="16"/>
</g>
<!-- gauge -->
<g fill="none" stroke="#666" stroke-width="1.25">
<path d="M414.4 370.6 A13.55 13.6 0 0 1 441.5 370.6"/>
<path d="M413.8 370.8 H442.1" stroke-width="1.4"/>
<path d="M416.3 368.4 H418.8 M419.1 363.2 L420.5 364.6 M423.6 360 L424.7 361.5 M428.8 359.4 V361.1 M434.7 361.1 L433.3 362.8 M438.5 365.3 L436.8 366.7" stroke-width="1.1"/>
<path d="M426.8 368.8 L422.2 363.2" stroke-width="1.5"/>
</g>
<path d="M424.7 370.6 L426 368.1 H429.8 L431 370.6 Z" fill="#666"/>
<!-- pencil -->
<g fill="#626262" transform="translate(587.1 375.8) rotate(38)">
<path d="M-0.9 -0.4 Q0 0.4 0.9 -0.4 L3.6 -7.5 V-23.6 H-3.6 V-7.5 Z"/>
<rect x="-3.6" y="-25.3" width="7.2" height="1.1"/>
<path d="M-3.6 -25.9 V-26.8 Q-3.6 -27.6 -2.8 -27.6 H2.8 Q3.6 -27.6 3.6 -26.8 V-25.9 Z"/>
</g>
<!-- folder -->
<path d="M751 355.2 Q751 353.8 752.3 353.8 H756 Q757.3 353.8 757.5 354.9 H779.6 Q780.8 354.9 780.8 356.1 V373.2 Q780.8 374.4 779.6 374.4 H752.2 Q751 374.4 751 373.2 Z" fill="#7e7e7e"/>
<rect x="757.6" y="355" width="23.2" height="1.9" fill="#666666"/>
<rect x="751.9" y="356.2" width="5.9" height="2" fill="#4c4c4c"/>
<g fill="none" stroke="#3c3c3c" stroke-width="0.85">
<path d="M759.2 366 Q763 363 772.4 359 L765.8 371.2"/>
<path d="M763.4 361.5 L769.6 368.4"/>
<path d="M772.4 359 L772.9 358"/>
</g>
</svg>
</body>
</html>
